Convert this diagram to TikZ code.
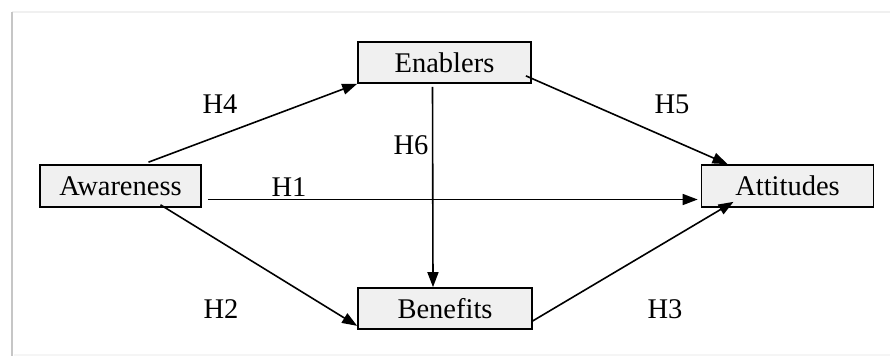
\documentclass[tikz,border=0pt]{standalone}
\usepackage{fontspec}
\setmainfont{Liberation Serif}
\usetikzlibrary{arrows.meta}
\definecolor{boxfill}{HTML}{F0F0F0}
\tikzset{
  box/.style={draw=black, line width=1.7pt, fill=boxfill, inner sep=0pt,
    font=\fontsize{28.5}{31}\selectfont},
  lbl/.style={inner sep=0pt, font=\fontsize{28.5}{31}\selectfont},
  conn/.style={line width=1.6pt, -{Triangle[length=15pt,width=11pt]}},
  plain/.style={line width=1.6pt}
}
\begin{document}
\begin{tikzpicture}[x=1pt,y=-1pt]
\useasboundingbox (0,0) rectangle (890,356);
\fill[white] (0,0) rectangle (890,356);
% soft frame
\draw[gray!12, line width=2pt] (12,12) -- (890,12);
\draw[gray!45, line width=2.5pt] (12,12) -- (12,356);
\draw[gray!8, line width=1.5pt] (14,355) -- (890,355);

\node[box, minimum width=173pt, minimum height=41pt] (enab) at (444.5,62.5) {Enablers};
\node[box, minimum width=161pt, minimum height=42pt] (aw) at (120.5,186) {Awareness};
\node[box, minimum width=172pt, minimum height=42pt] (att) at (787.5,186) {Attitudes};
\node[box, minimum width=174pt, minimum height=41pt] (ben) at (445,308.5) {Benefits};

\draw[conn] ([xshift=28pt,yshift=2pt]aw.north) -- (enab.south west);
\draw[conn] ([xshift=-6pt,yshift=8pt]enab.south east) -- ([xshift=-60pt]att.north);
\draw[conn] ([xshift=-12pt,yshift=-3pt]enab.south) -- ([xshift=-12pt]ben.north);
\draw[conn] ([xshift=6pt,yshift=-13.5pt]aw.east) -- ([xshift=-3pt,yshift=-13.5pt]att.west);
\draw[conn] ([xshift=40pt,yshift=3pt]aw.south) -- ([yshift=4pt]ben.south west);
\draw[conn] ([yshift=9pt]ben.south east) -- ([xshift=-54pt,yshift=6pt]att.south);

\node[lbl] (h4) at (220,104) {H4};
\node[lbl] (h6) at (411,145) {H6};
\node[lbl] (h1) at (289,187) {H1};
\node[lbl] (h5) at (672,104) {H5};
\node[lbl] (h2) at (221,309) {H2};
\node[lbl] (h3) at (665,309) {H3};
\end{tikzpicture}
\end{document}
